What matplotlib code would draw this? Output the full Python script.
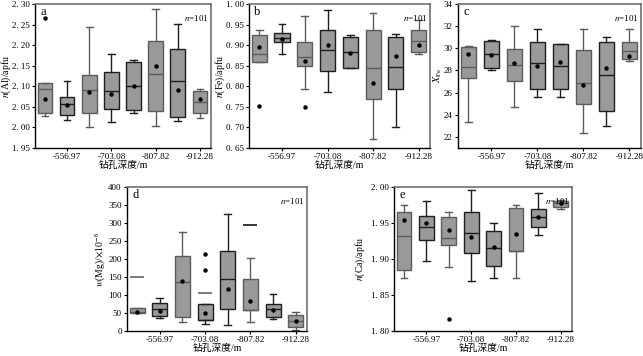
import matplotlib
matplotlib.use("Agg")
import matplotlib.pyplot as plt
from matplotlib.ticker import FuncFormatter

plt.rcParams['font.family'] = ['Liberation Serif', 'Noto Sans CJK SC']
plt.rcParams['mathtext.fontset'] = 'stix'

depth_labels = ["-556.97", "-703.08", "-807.82", "-912.28"]
n_label = "101"

# ---- panel a: n(Al) ----
al_q1 = [2.034, 2.031, 2.034, 2.044, 2.043, 2.039, 2.026, 2.036]
al_med = [2.093, 2.056, 2.092, 2.088, 2.100, 2.130, 2.112, 2.063]
al_q3 = [2.107, 2.075, 2.128, 2.135, 2.158, 2.211, 2.190, 2.089]
al_lo = [2.028, 2.018, 2.000, 2.012, 2.036, 2.004, 2.016, 2.022]
al_hi = [2.107, 2.112, 2.245, 2.179, 2.164, 2.288, 2.252, 2.094]
al_mean = [2.069, 2.054, 2.085, 2.081, 2.100, 2.149, 2.092, 2.068]
al_out = [[2.267], [], [], [], [], [], [], []]
al_dash = [[], [], [], [], [], [], [], []]

# ---- panel b: n(Fe) ----
fe_q1 = [0.859, 0.908, 0.849, 0.837, 0.844, 0.768, 0.794, 0.883]
fe_med = [0.879, 0.917, 0.871, 0.889, 0.883, 0.845, 0.848, 0.910]
fe_q3 = [0.9235, 0.929, 0.908, 0.938, 0.921, 0.936, 0.921, 0.936]
fe_lo = [0.859, 0.878, 0.794, 0.787, 0.844, 0.672, 0.700, 0.879]
fe_hi = [0.937, 0.952, 0.971, 0.9855, 0.925, 0.979, 0.928, 0.962]
fe_mean = [0.895, 0.915, 0.862, 0.901, 0.881, 0.807, 0.873, 0.900]
fe_out = [[0.752], [], [0.750], [], [], [], [], []]
fe_dash = [[], [], [], [], [], [], [], []]

# ---- panel c: X_Fe ----
xfe_q1 = [27.29, 28.25, 27.02, 26.34, 26.34, 24.99, 24.36, 29.03]
xfe_med = [28.31, 29.45, 28.49, 28.67, 28.37, 26.84, 27.59, 29.75]
xfe_q3 = [30.11, 30.65, 29.93, 30.56, 30.38, 29.84, 30.56, 30.53]
xfe_lo = [23.34, 28.07, 24.72, 25.59, 25.62, 22.38, 23.01, 28.88]
xfe_hi = [30.20, 30.74, 32.05, 31.78, 30.38, 31.72, 31.01, 31.72]
xfe_mean = [29.48, 29.39, 28.64, 28.40, 28.73, 26.72, 28.22, 29.27]
xfe_out = [[], [], [], [], [], [], [], []]
xfe_dash = [[], [], [], [], [], [], [], []]

# ---- panel d: w(Mg) ----
mg_q1 = [49.0, 41.7, 39.8, 29.6, 61.1, 58.3, 38.0, 12.0]
mg_med = [53.7, 60.2, 136.1, 29.6, 143.5, 58.3, 61.1, 27.8]
mg_q3 = [64.8, 76.9, 208.3, 74.1, 223.0, 143.5, 74.1, 43.5]
mg_lo = [49.0, 37.0, 25.0, 18.5, 15.7, 24.0, 32.4, 2.8]
mg_hi = [64.8, 92.6, 275.0, 74.1, 324.0, 203.7, 102.8, 52.8]
mg_mean = [52.8, 54.6, 139.8, 50.9, 115.7, 83.3, 58.3, 28.7]
mg_out = [[], [], [], [213.0, 168.5], [], [], [], []]
mg_dash = [[150.0], [], [], [106.5], [], [294.4], [], []]

# ---- panel e: n(Ca) ----
ca_q1 = [1.885, 1.927, 1.920, 1.909, 1.890, 1.9116, 1.945, 1.972]
ca_med = [1.9315, 1.944, 1.9296, 1.9356, 1.915, 1.9116, 1.9588, 1.978]
ca_q3 = [1.965, 1.960, 1.959, 1.9657, 1.939, 1.971, 1.970, 1.981]
ca_lo = [1.8736, 1.897, 1.889, 1.870, 1.873, 1.8736, 1.933, 1.9694]
ca_hi = [1.9755, 1.980, 1.9657, 1.9963, 1.950, 1.9755, 1.991, 1.982]
ca_mean = [1.9546, 1.950, 1.940, 1.9306, 1.917, 1.935, 1.958, 1.978]
ca_out = [[], [], [1.816], [], [], [], [], []]
ca_dash = [[], [], [], [], [], [], [], []]

W, H = 643, 356
fig = plt.figure(figsize=(W / 100, H / 100), dpi=100)


def px_axes(l, r, t, b):
    return fig.add_axes([l / W, 1 - b / H, (r - l) / W, (b - t) / H])


panels = [
    dict(box=(35, 211, 4, 148), ylx=6.5, q1=al_q1, med=al_med, q3=al_q3, lo=al_lo, hi=al_hi,
         mean=al_mean, out=al_out, dash=al_dash, ylim=(1.95, 2.30), step=0.05,
         fmt="sp", ylabel=r"$n$(Al)/apfu", tag="a"),
    dict(box=(249, 430, 4, 148), ylx=220, q1=fe_q1, med=fe_med, q3=fe_q3, lo=fe_lo, hi=fe_hi,
         mean=fe_mean, out=fe_out, dash=fe_dash, ylim=(0.65, 1.00), step=0.05,
         fmt="sp", ylabel=r"$n$(Fe)/apfu", tag="b"),
    dict(box=(458, 641, 4, 148), ylx=438, q1=xfe_q1, med=xfe_med, q3=xfe_q3, lo=xfe_lo, hi=xfe_hi,
         mean=xfe_mean, out=xfe_out, dash=xfe_dash, ylim=(21, 34), step=2,
         fmt="int", ylabel=r"$X_{\mathrm{Fe}}$", tag="c", ticks=[22, 24, 26, 28, 30, 32, 34]),
    dict(box=(127, 307, 187, 331), ylx=100, q1=mg_q1, med=mg_med, q3=mg_q3, lo=mg_lo, hi=mg_hi,
         mean=mg_mean, out=mg_out, dash=mg_dash, ylim=(0, 400), step=50,
         fmt="int", ylabel=r"$w$(Mg)/$\times$10$^{-6}$", tag="d"),
    dict(box=(394, 572, 187, 331), ylx=360, q1=ca_q1, med=ca_med, q3=ca_q3, lo=ca_lo, hi=ca_hi,
         mean=ca_mean, out=ca_out, dash=ca_dash, ylim=(1.80, 2.00), step=0.05,
         fmt="sp", ylabel=r"$n$(Ca)/apfu", tag="e"),
]

edge_cols = ['#5c5c5c', '#1e1e1e', '#5c5c5c', '#1e1e1e', '#1e1e1e', '#5c5c5c', '#1e1e1e', '#5c5c5c']
fill = '#9a9a9a'
positions = list(range(1, 9))

for p in panels:
    l, r, t, b = p['box']
    ax = px_axes(l, r, t, b)
    for i, pos in enumerate(positions):
        st = dict(med=p['med'][i], q1=p['q1'][i], q3=p['q3'][i],
                  whislo=p['lo'][i], whishi=p['hi'][i], mean=p['mean'][i],
                  fliers=p['out'][i])
        ec = edge_cols[i]
        ax.bxp([st], positions=[pos], widths=0.66, patch_artist=True, showmeans=True,
               boxprops=dict(facecolor=fill, edgecolor=ec, linewidth=1.0),
               medianprops=dict(color=ec, linewidth=1.0),
               whiskerprops=dict(color=ec, linewidth=1.0),
               capprops=dict(color=ec, linewidth=1.0),
               capwidths=0.3,
               meanprops=dict(marker='o', markerfacecolor='black', markeredgecolor='black',
                              markersize=2.2),
               flierprops=dict(marker='o', markerfacecolor='black', markeredgecolor='black',
                               markersize=2.2),
               manage_ticks=False)
        for dv in p['dash'][i]:
            ax.plot([pos], [dv], marker='_', markersize=10.5, markeredgewidth=1.1,
                    color='#555555' if i != 5 else 'black')
    ax.set_xlim(0.55, 8.5)
    ax.set_ylim(*p['ylim'])
    ax.set_xticks([2, 4, 6, 8])
    ax.set_xticklabels(depth_labels)
    if 'ticks' in p:
        ax.set_yticks(p['ticks'])
    else:
        lo_, hi_ = p['ylim']
        n = int(round((hi_ - lo_) / p['step']))
        ax.set_yticks([lo_ + k * p['step'] for k in range(n + 1)])
    if p['fmt'] == 'sp':
        ax.yaxis.set_major_formatter(FuncFormatter(lambda v, _: f"{v:.2f}".replace('.', '. ')))
    else:
        ax.yaxis.set_major_formatter(FuncFormatter(lambda v, _: f"{v:.0f}"))
    ax.tick_params(axis='both', direction='out', length=2.5, width=0.8, pad=1.2)
    ax.tick_params(axis='x', labelsize=6.6)
    ax.tick_params(axis='y', labelsize=6.5)
    for s in ['left', 'bottom']:
        ax.spines[s].set_color('black')
        ax.spines[s].set_linewidth(1.0)
    for s in ['top', 'right']:
        ax.spines[s].set_color('#707070')
        ax.spines[s].set_linewidth(1.2)
    ax.set_ylabel(p['ylabel'], fontsize=7)
    ax.yaxis.label.set_verticalalignment('center')
    ax.yaxis.set_label_coords((p['ylx'] - l) / (r - l), 0.5)
    ax.set_xlabel("钻孔深度/m", fontsize=7)
    ax.xaxis.label.set_verticalalignment('center')
    ax.xaxis.set_label_coords(0.5, -17.0 / (b - t))
    ax.text(0.03, 0.985, p['tag'], transform=ax.transAxes, ha='left', va='top', fontsize=9)
    ax.text(0.985, 0.94, r"$n$=" + n_label, transform=ax.transAxes, ha='right', va='top',
            fontsize=6.5)

fig.savefig("out.png", dpi=100)
